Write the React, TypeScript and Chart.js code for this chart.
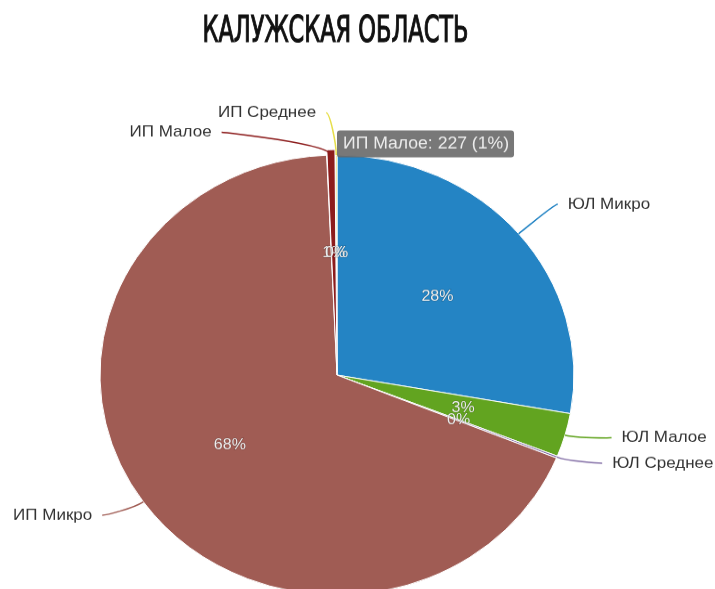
import React, { useEffect, useRef } from 'react';
import { Chart, ArcElement, PieController, Tooltip } from 'chart.js';

Chart.register(ArcElement, PieController, Tooltip);

const titleText = 'КАЛУЖСКАЯ ОБЛАСТЬ';
const categories = ['ЮЛ Микро', 'ЮЛ Малое', 'ЮЛ Среднее', 'ИП Микро', 'ИП Малое', 'ИП Среднее'];
const values = [10510, 1210, 57, 25760, 227, 38];
const colors = ['#2484c4', '#62a420', '#8672a8', '#a05c54', '#8c1c1c', '#e6de4a'];
const activeIndex = 4;

const total = values.reduce((a, b) => a + b, 0);
const pct = (i: number) => Math.round((values[i] / total) * 100);

const LABEL_FONT = '"Liberation Sans", Arial, sans-serif';
const HOVER_OFFSET = 12;

(Tooltip.positioners as any).sliceTop = function (items: any[]) {
  if (!items.length) return false;
  const el = items[0].element;
  return { x: el.x, y: el.y - el.outerRadius - HOVER_OFFSET };
};

const labelsPlugin = {
  id: 'pieLabels',
  afterDatasetsDraw(chart: any) {
    const ctx = chart.ctx as CanvasRenderingContext2D;
    const arcs = chart.getDatasetMeta(0).data as any[];
    if (!arcs.length) return;
    const cx = arcs[0].x;
    const cy = arcs[0].y;
    const R = arcs[0].outerRadius;
    const rl = R + 38;

    // title
    const area = chart.chartArea;
    ctx.save();
    ctx.font = `normal 39px "Liberation Sans Narrow", "DejaVu Sans Condensed", Roboto, sans-serif`;
    const w = ctx.measureText(titleText).width;
    const sx = 266 / w;
    ctx.translate((area.left + area.right) / 2 - 1.5, 45);
    ctx.scale(sx, 1);
    ctx.fillStyle = '#111';
    ctx.strokeStyle = '#111';
    ctx.lineWidth = 1.2;
    ctx.textAlign = 'center';
    ctx.textBaseline = 'alphabetic';
    ctx.fillText(titleText, 0, 0);
    ctx.strokeText(titleText, 0, 0);
    ctx.restore();

    // inner percentages
    ctx.save();
    ctx.font = `16px ${LABEL_FONT}`;
    ctx.textAlign = 'center';
    ctx.textBaseline = 'middle';
    arcs.forEach((a, i) => {
      const mid = (a.startAngle + a.endAngle) / 2;
      const x = cx + Math.cos(mid) * R * 0.553;
      const y = cy + Math.sin(mid) * R * 0.553;
      const t = pct(i) + '%';
      ctx.lineWidth = 1;
      ctx.strokeStyle = 'rgba(0,0,0,0.25)';
      ctx.strokeText(t, x, y);
      ctx.fillStyle = '#eeeeee';
      ctx.fillText(t, x, y);
    });
    ctx.restore();

    // outer labels
    const items = arcs.map((a, i) => {
      const mid = (a.startAngle + a.endAngle) / 2;
      const ux = Math.cos(mid);
      const uy = Math.sin(mid);
      return { i, ux, uy, left: ux < 0, y: cy + uy * rl };
    });
    [true, false].forEach((side) => {
      const group = items.filter((it) => it.left === side).sort((a, b) => a.y - b.y);
      for (let k = 1; k < group.length; k++) {
        if (group[k].y < group[k - 1].y + 21) group[k].y = group[k - 1].y + 21;
      }
    });
    ctx.save();
    ctx.font = `17px ${LABEL_FONT}`;
    ctx.textBaseline = 'middle';
    items.forEach((it) => {
      const dy = it.y - cy;
      const dx = Math.sqrt(Math.max(0, rl * rl - dy * dy));
      const X0 = it.left ? cx - dx : cx + dx;
      const Y = it.y - 7.5;
      const sgn = it.left ? -1 : 1;
      const textX = X0 + sgn * 20;
      const conX = X0 + sgn * 10;
      const T = { x: cx + it.ux * R, y: cy + it.uy * R };
      const B = { x: cx + it.ux * (R + 12), y: cy + it.uy * (R + 12) };
      ctx.beginPath();
      ctx.moveTo(conX, Y);
      ctx.bezierCurveTo(conX - sgn * 4, Y, B.x, B.y, T.x, T.y);
      ctx.strokeStyle = colors[it.i];
      ctx.lineWidth = 1.5;
      ctx.stroke();
      ctx.fillStyle = '#333333';
      ctx.textAlign = it.left ? 'right' : 'left';
      ctx.fillText(categories[it.i], textX, Y);
    });
    ctx.restore();
  },
};

export default function App() {
  const ref = useRef<HTMLCanvasElement>(null);
  useEffect(() => {
    const chart = new Chart(ref.current as HTMLCanvasElement, {
      type: 'pie',
      data: {
        labels: categories,
        datasets: [
          {
            data: values,
            backgroundColor: colors,
            hoverBackgroundColor: colors,
            borderColor: '#ffffff',
            hoverBorderColor: '#ffffff',
            borderWidth: 1,
            hoverBorderWidth: 1,
            hoverOffset: HOVER_OFFSET,
          },
        ],
      },
      options: {
        responsive: false,
        animation: false,
        events: [],
        radius: 237,
        layout: { padding: { top: 57, left: 0, right: 41, bottom: 0 } },
        plugins: {
          legend: { display: false },
          tooltip: {
            enabled: true,
            position: 'sliceTop' as any,
            xAlign: 'left',
            yAlign: 'center',
            caretSize: 0,
            caretPadding: 0,
            displayColors: false,
            backgroundColor: 'rgba(105,105,105,0.9)',
            bodyColor: '#ececec',
            bodyFont: { size: 17.6, family: LABEL_FONT },
            padding: { left: 6, right: 5, top: 4, bottom: 4 },
            cornerRadius: 3,
            callbacks: {
              title: () => '',
              label: (c: any) => `${categories[c.dataIndex]}: ${values[c.dataIndex]} (${pct(c.dataIndex)}%)`,
            },
          },
        },
      } as any,
      plugins: [labelsPlugin],
    });
    chart.setActiveElements([{ datasetIndex: 0, index: activeIndex }]);
    chart.tooltip?.setActiveElements([{ datasetIndex: 0, index: activeIndex }], { x: 0, y: 0 });
    chart.update();
    return () => chart.destroy();
  }, []);
  return (
    <div style={{ position: 'absolute', left: 0, top: 0, width: 715, height: 589, overflow: 'hidden', background: '#fff' }}>
      <div style={{ width: 715, height: 751, transform: 'scaleY(0.9283)', transformOrigin: '0 0' }}>
        <canvas ref={ref} width={715} height={751} style={{ display: 'block', width: 715, height: 751 }} />
      </div>
    </div>
  );
}
